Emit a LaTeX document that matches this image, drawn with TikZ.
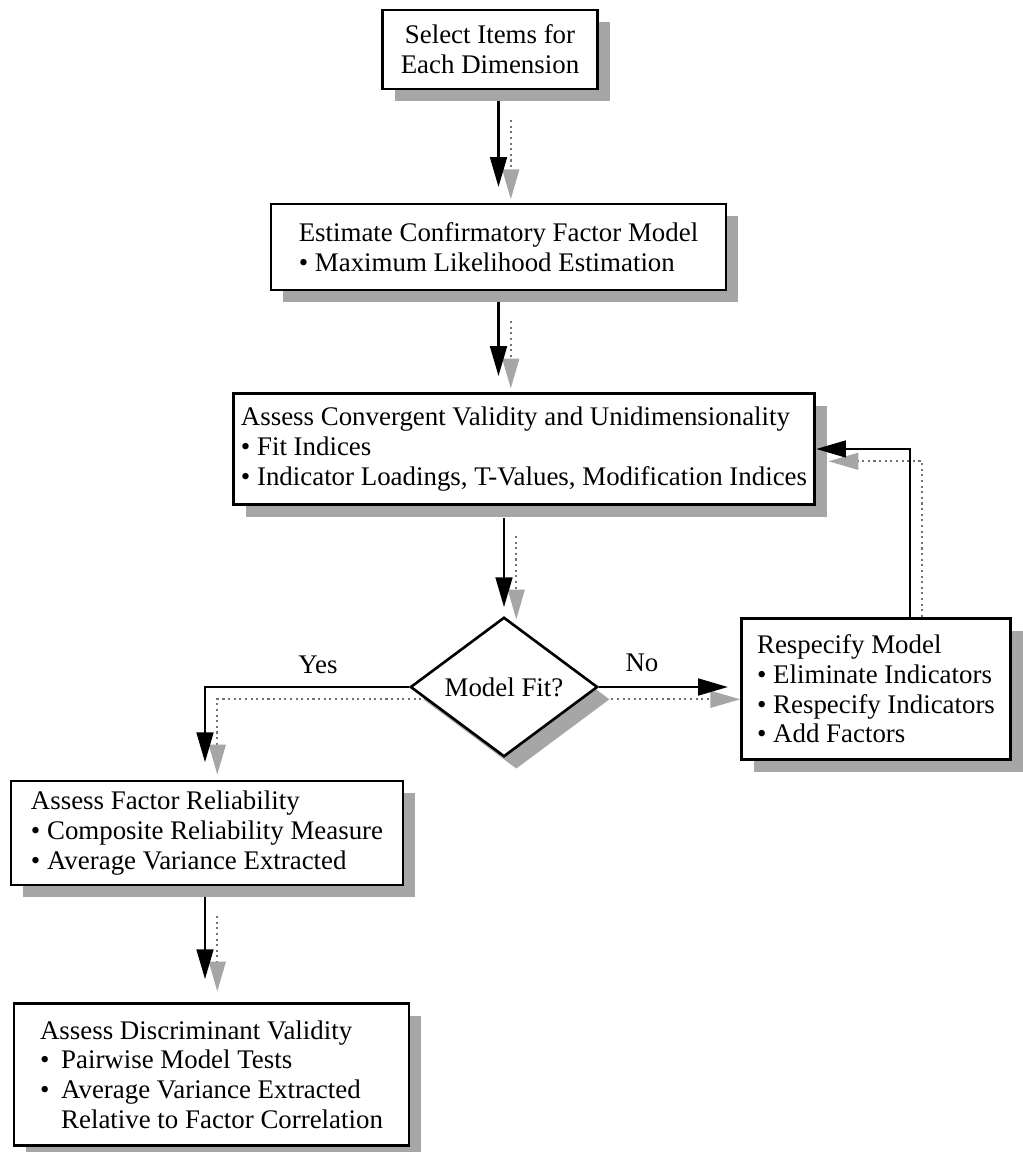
\documentclass[tikz,border=0pt]{standalone}
\usepackage{fontspec}
\setmainfont{Liberation Serif}
\usetikzlibrary{arrows.meta,shapes.geometric,shadows,positioning}
\newcommand{\boxfont}{\fontsize{15.3}{16.9}\selectfont}
\newcommand{\itembul}{\makebox[12pt][l]{\textbullet}}
\tikzset{
  boxshadow/.style={drop shadow={shadow xshift=7pt, shadow yshift=-7pt,
    fill=black!35, opacity=1}},
  stepbox/.style={draw=black, line width=1.5pt, fill=white, boxshadow,
    font=\boxfont, align=left, inner sep=0pt},
  decision/.style={diamond, draw=black, line width=1.5pt, fill=white, boxshadow,
    font=\boxfont, inner sep=0pt, minimum width=106.6pt, minimum height=79.4pt},
  flowarrow/.style={line width=1.5pt, -{Triangle[length=17pt,width=9.5pt]}},
  flowshadow/.style={draw=black!55, line width=1.2pt, dotted,
    -{Triangle[length=17pt,width=9.5pt,color=black!35,fill=black!35]},
    transform canvas={xshift=7pt,yshift=-7pt}},
  branchlabel/.style={font=\boxfont}
}
\begin{document}
\begin{tikzpicture}[x=0.02cm,y=-0.02cm]
  \useasboundingbox (0,0) rectangle (1022,1152);
  \node[stepbox, align=center, minimum width=122.5pt, minimum height=44.8pt]
    (select) at (490,49.5) {Select Items for\\Each Dimension};
  \node[stepbox, minimum width=259pt, minimum height=48.8pt]
    (estimate) at (498.5,247) {Estimate Confirmatory Factor Model\\\textbullet{} Maximum Likelihood Estimation};
  \node[stepbox, minimum width=331pt, minimum height=63.5pt]
    (converge) at (524,449) {Assess Convergent Validity and Unidimensionality\\\textbullet{} Fit Indices\\\textbullet{} Indicator Loadings, T-Values, Modification Indices};
  \node[decision] (modelfit) at (504,687) {Model Fit?};
  \node[stepbox, minimum width=153pt, minimum height=80.5pt]
    (respec) at (876,689) {Respecify Model\\\textbullet{} Eliminate Indicators\\\textbullet{} Respecify Indicators\\\textbullet{} Add Factors};
  \node[stepbox, minimum width=223pt, minimum height=59pt]
    (reliab) at (207,833) {Assess Factor Reliability\\\textbullet{} Composite Reliability Measure\\\textbullet{} Average Variance Extracted};
  \node[stepbox, minimum width=225pt, minimum height=81pt]
    (discrim) at (211.5,1074.5) {Assess Discriminant Validity\\\itembul Pairwise Model Tests\\\itembul Average Variance Extracted\\\hspace*{12pt}Relative to Factor Correlation};
  \node[branchlabel] (yeslab) at (318,665) {Yes};
  \node[branchlabel] (nolab) at (642,663) {No};
  \coordinate (loopcorner) at ([xshift=0.68cm]respec.north);
  \coordinate (yescorner) at (205,0);

  \draw[flowshadow, shorten <=10pt, shorten >=9pt] (select.south -| estimate.north) -- (estimate.north);
  \draw[flowshadow, shorten <=10pt, shorten >=9pt] (estimate.south) -- (estimate.south |- converge.north);
  \draw[flowshadow, shorten <=10pt, shorten >=5pt] (converge.south -| modelfit.north) -- (modelfit.north);
  \draw[flowshadow, shorten >=10pt] (modelfit.west) -| (yescorner |- reliab.north);
  \draw[flowshadow, shorten >=7pt] (modelfit.east) -- (respec.west |- modelfit.east);
  \draw[flowshadow, shorten <=7pt] (loopcorner) |- (converge.east);
  \draw[flowshadow, shorten <=10pt, shorten >=13pt] (yescorner |- reliab.south) -- (yescorner |- discrim.north);

  \draw[flowarrow, shorten <=6pt, shorten >=9pt] (select.south -| estimate.north) -- (estimate.north);
  \draw[flowarrow, shorten <=6pt, shorten >=9pt] (estimate.south) -- (estimate.south |- converge.north);
  \draw[flowarrow, shorten <=7pt, shorten >=5pt] (converge.south -| modelfit.north) -- (modelfit.north);
  \draw[flowarrow, shorten >=10pt] (modelfit.west) -| (yescorner |- reliab.north);
  \draw[flowarrow, shorten >=7pt] (modelfit.east) -- (respec.west |- modelfit.east);
  \draw[flowarrow] (loopcorner) |- (converge.east);
  \draw[flowarrow, shorten <=6pt, shorten >=13pt] (yescorner |- reliab.south) -- (yescorner |- discrim.north);
\end{tikzpicture}
\end{document}
